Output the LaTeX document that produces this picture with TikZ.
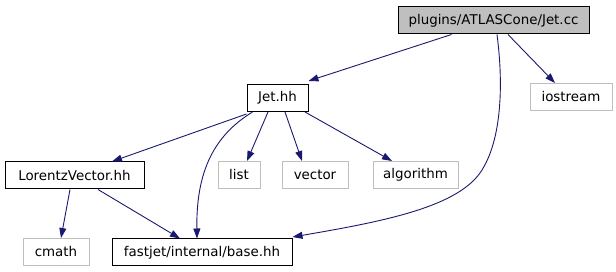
\documentclass[tikz,border=0pt]{standalone}
\usepackage{fontspec}
\setmainfont{DejaVu Sans}
\usetikzlibrary{arrows.meta}
\definecolor{edgeblue}{HTML}{191970}
\definecolor{sysgray}{HTML}{BFBFBF}
\begin{document}
\begin{tikzpicture}[x=1pt,y=-1pt,
  every node/.style={font=\fontsize{13.4}{16}\selectfont, inner sep=0pt, minimum height=27pt, anchor=center},
  mainbox/.style={draw=black, fill=sysgray, line width=1pt},
  localbox/.style={draw=black, fill=white, line width=1pt},
  sysbox/.style={draw=sysgray, fill=white, line width=1pt},
  dep/.style={draw=edgeblue, line width=0.9pt, -{Triangle[length=10pt,width=7pt]}}]
\useasboundingbox (0,0) rectangle (616,272);
\node[mainbox, minimum width=191pt] (cc) at (493.5,20.5) {plugins/ATLASCone/Jet.cc};
\node[localbox, minimum width=61pt] (jethh) at (277.5,98) {Jet.hh};
\node[sysbox, minimum width=82pt] (iostream) at (571,97) {iostream};
\node[localbox, minimum width=139pt] (lv) at (74.5,175.5) {LorentzVector.hh};
\node[sysbox, minimum width=42pt] (list) at (239,175) {list};
\node[sysbox, minimum width=66pt] (vector) at (315,175) {vector};
\node[sysbox, minimum width=85pt] (algorithm) at (415.5,175) {algorithm};
\node[sysbox, minimum width=66pt] (cmath) at (56,252) {cmath};
\node[localbox, minimum width=180pt] (base) at (202,252.5) {fastjet/internal/base.hh};

\draw[dep] ([xshift=-42pt]cc.south) -- ([yshift=3pt]jethh.north east);
\draw[dep] ([xshift=14.5pt]cc.south) -- ([xshift=-16pt]iostream.north);
\draw[dep] ([xshift=3.5pt]cc.south) .. controls (503,80) and (503,140) .. (480,173)
   .. controls (455,208) and (380,222) .. ([yshift=1.5pt]base.north east);
\draw[dep] ([yshift=-2pt]jethh.south west) -- ([xshift=37.5pt]lv.north);
\draw[dep] ([xshift=-25pt]jethh.south) .. controls (215,135) and (196,170) .. ([xshift=-5pt]base.north);
\draw[dep] ([xshift=-9.5pt]jethh.south) -- ([xshift=8pt]list.north);
\draw[dep] ([xshift=7.5pt]jethh.south) -- ([xshift=-13pt]vector.north);
\draw[dep] ([xshift=27.5pt]jethh.south) -- ([xshift=-23.5pt]algorithm.north);
\draw[dep] ([xshift=-4.5pt]lv.south) -- ([xshift=5pt]cmath.north);
\draw[dep] ([xshift=23.5pt]lv.south) -- ([xshift=-22pt]base.north);
\end{tikzpicture}
\end{document}
